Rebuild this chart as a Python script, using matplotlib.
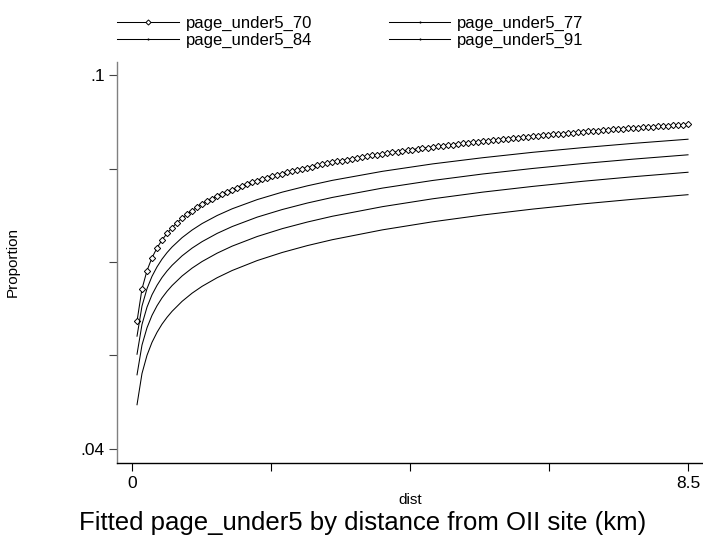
import matplotlib
matplotlib.use("Agg")
from matplotlib import pyplot as plt
from matplotlib.lines import Line2D

plt.rcParams['font.family'] = ['Liberation Sans', 'DejaVu Sans']

# distance grid (km) of the fitted values
dist = [0.077, 0.153, 0.230, 0.306, 0.383, 0.459, 0.536, 0.613, 0.689, 0.766,
        0.842, 0.919, 0.995, 1.072, 1.149, 1.225, 1.302, 1.378, 1.455, 1.532,
        1.608, 1.685, 1.761, 1.838, 1.914, 1.991, 2.068, 2.144, 2.221, 2.297,
        2.374, 2.450, 2.527, 2.604, 2.680, 2.757, 2.833, 2.910, 2.986, 3.063,
        3.140, 3.216, 3.293, 3.369, 3.446, 3.523, 3.599, 3.676, 3.752, 3.829,
        3.905, 3.982, 4.059, 4.135, 4.212, 4.288, 4.365, 4.441, 4.518, 4.595,
        4.671, 4.748, 4.824, 4.901, 4.977, 5.054, 5.131, 5.207, 5.284, 5.360,
        5.437, 5.514, 5.590, 5.667, 5.743, 5.820, 5.896, 5.973, 6.050, 6.126,
        6.203, 6.279, 6.356, 6.432, 6.509, 6.586, 6.662, 6.739, 6.815, 6.892,
        6.968, 7.045, 7.122, 7.198, 7.275, 7.351, 7.428, 7.505, 7.581, 7.658,
        7.734, 7.811, 7.887, 7.964, 8.041, 8.117, 8.194, 8.270, 8.347, 8.423,
        8.500]

page_under5_70 = [0.06050, 0.06568, 0.06863, 0.07069, 0.07226, 0.07353, 0.07459, 0.07551, 0.07631, 0.07702,
                  0.07766, 0.07824, 0.07877, 0.07926, 0.07972, 0.08014, 0.08054, 0.08091, 0.08126, 0.08159,
                  0.08191, 0.08221, 0.08249, 0.08276, 0.08302, 0.08327, 0.08351, 0.08374, 0.08397, 0.08418,
                  0.08439, 0.08459, 0.08478, 0.08497, 0.08515, 0.08532, 0.08550, 0.08566, 0.08582, 0.08598,
                  0.08613, 0.08628, 0.08643, 0.08657, 0.08671, 0.08684, 0.08697, 0.08710, 0.08723, 0.08735,
                  0.08747, 0.08759, 0.08771, 0.08782, 0.08793, 0.08804, 0.08815, 0.08825, 0.08836, 0.08846,
                  0.08856, 0.08866, 0.08875, 0.08885, 0.08894, 0.08903, 0.08912, 0.08921, 0.08930, 0.08939,
                  0.08947, 0.08955, 0.08964, 0.08972, 0.08980, 0.08988, 0.08995, 0.09003, 0.09011, 0.09018,
                  0.09025, 0.09033, 0.09040, 0.09047, 0.09054, 0.09061, 0.09068, 0.09074, 0.09081, 0.09088,
                  0.09094, 0.09101, 0.09107, 0.09113, 0.09120, 0.09126, 0.09132, 0.09138, 0.09144, 0.09150,
                  0.09155, 0.09161, 0.09167, 0.09172, 0.09178, 0.09183, 0.09189, 0.09194, 0.09200, 0.09205,
                  0.09210]

# the other fits, read at fewer distances
dist_b = [0.077, 0.153, 0.230, 0.306, 0.383, 0.459, 0.536, 0.613, 0.766, 0.919,
          1.072, 1.302, 1.532, 1.914, 2.297, 2.680, 3.063, 3.829, 4.595, 5.360,
          6.126, 6.892, 7.658, 8.500]
page_under5_77 = [0.05810, 0.06293, 0.06573, 0.06770, 0.06922, 0.07046, 0.07151, 0.07241, 0.07391, 0.07513,
                  0.07617, 0.07746, 0.07854, 0.08001, 0.08121, 0.08222, 0.08310, 0.08455, 0.08574, 0.08673,
                  0.08760, 0.08835, 0.08903, 0.08970]
page_under5_84 = [0.05520, 0.05998, 0.06277, 0.06474, 0.06626, 0.06751, 0.06856, 0.06947, 0.07099, 0.07223,
                  0.07327, 0.07459, 0.07569, 0.07720, 0.07842, 0.07946, 0.08036, 0.08186, 0.08308, 0.08412,
                  0.08501, 0.08580, 0.08650, 0.08720]
page_under5_91 = [0.05190, 0.05667, 0.05946, 0.06144, 0.06298, 0.06424, 0.06530, 0.06622, 0.06776, 0.06902,
                  0.07008, 0.07142, 0.07255, 0.07409, 0.07535, 0.07641, 0.07734, 0.07888, 0.08014, 0.08121,
                  0.08213, 0.08295, 0.08368, 0.08440]
page_under5_98 = [0.04710, 0.05211, 0.05504, 0.05711, 0.05872, 0.06003, 0.06113, 0.06209, 0.06369, 0.06500,
                  0.06610, 0.06748, 0.06864, 0.07023, 0.07153, 0.07263, 0.07358, 0.07516, 0.07645, 0.07754,
                  0.07849, 0.07932, 0.08006, 0.08080]

xticks = [0, 2.125, 4.25, 6.375, 8.5]
xticklabels = ['0', '', '', '', '8.5']
yticks = [0.1, 0.085, 0.07, 0.055, 0.04]
yticklabels = ['.1', '', '', '', '.04']

fig = plt.figure(figsize=(7.03, 5.35), dpi=100)
ax = fig.add_axes([117/703, 1 - 463/535, 586/703, 401/535])

lw = 0.75
ax.plot(dist, page_under5_70, color='black', lw=lw, marker='D', ms=3.2,
        mfc='white', mec='black', mew=0.7)
ax.plot(dist_b, page_under5_77, color='black', lw=lw)
ax.plot(dist_b, page_under5_84, color='black', lw=lw)
ax.plot(dist_b, page_under5_91, color='black', lw=lw)
ax.plot(dist_b, page_under5_98, color='black', lw=lw)

ax.set_xlim(-0.229, 8.729)
ax.set_ylim(0.03775, 0.10209)
ax.set_xticks(xticks)
ax.set_xticklabels(xticklabels, fontsize=12.5)
ax.set_yticks(yticks)
ax.set_yticklabels(yticklabels, fontsize=12.5)
ax.tick_params(axis='x', direction='out', length=6, width=0.8, color='black', pad=3)
ax.tick_params(axis='y', direction='out', length=6, width=0.8, color='#444444', pad=3)

for s in ['top', 'right']:
    ax.spines[s].set_visible(False)
ax.spines['left'].set_color('#808080')
ax.spines['left'].set_linewidth(1.0)
ax.spines['bottom'].set_color('black')
ax.spines['bottom'].set_linewidth(1.0)

fig.text(410/703, 1 - 500/535, 'dist', ha='center', va='center', fontsize=11)
fig.text(13/703, 1 - 262/535, 'Proportion', ha='center', va='center',
         rotation=90, fontsize=11)
fig.text(363/703, 1 - 523/535, 'Fitted page_under5 by distance from OII site (km)',
         ha='center', va='center', fontsize=18.5)

h70 = Line2D([], [], color='black', lw=lw, marker='D', ms=2.6, mfc='white', mec='black', mew=0.7)
h77 = Line2D([], [], color='black', lw=lw, marker='|', ms=2)
h84 = Line2D([], [], color='black', lw=lw, marker='|', ms=2)
h91 = Line2D([], [], color='black', lw=lw, marker='|', ms=2)
fig.legend([h70, h84, h77, h91],
           ['page_under5_70', 'page_under5_84', 'page_under5_77', 'page_under5_91'],
           loc='upper left', bbox_to_anchor=(117/703, 1 - 16/535), ncol=2,
           frameon=False, fontsize=12, borderpad=0, borderaxespad=0,
           handlelength=3.7, handletextpad=0.42, columnspacing=4.6,
           labelspacing=0.12)

fig.savefig('out.png', dpi=100)
